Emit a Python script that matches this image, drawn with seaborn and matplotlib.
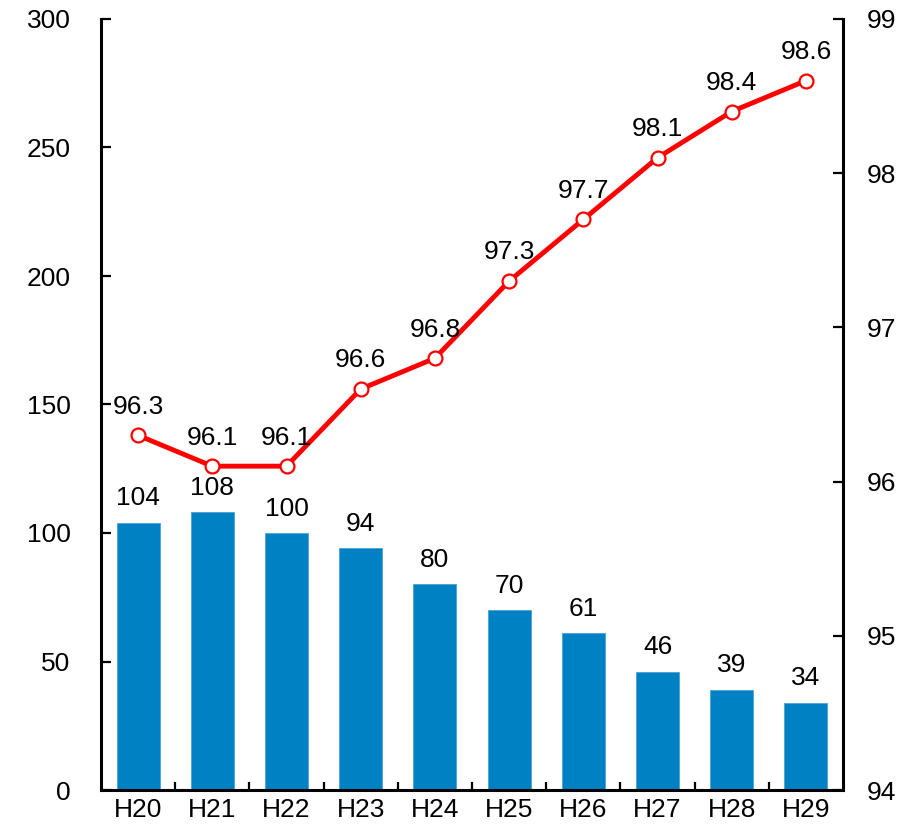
import matplotlib
matplotlib.use("Agg")
import matplotlib.pyplot as plt
import seaborn as sns
import numpy as np
import pandas as pd

categories = ["H20", "H21", "H22", "H23", "H24", "H25", "H26", "H27", "H28", "H29"]
bar_values = [104, 108, 100, 94, 80, 70, 61, 46, 39, 34]
line_values = [96.3, 96.1, 96.1, 96.6, 96.8, 97.3, 97.7, 98.1, 98.4, 98.6]
left_ticks = [0, 50, 100, 150, 200, 250, 300]
right_ticks = [94, 95, 96, 97, 98, 99]

sns.set_theme(style="white")
plt.rcParams["font.family"] = ["Liberation Sans", "DejaVu Sans"]
plt.rcParams["text.color"] = "black"
FS = 19

fig = plt.figure(figsize=(9.15, 8.24), dpi=100)
ax = fig.add_axes([101/915, 1-790/824, (843-101)/915, (790-19)/824])

df = pd.DataFrame({"cat": categories, "val": bar_values})
sns.barplot(data=df, x="cat", y="val", ax=ax, color="#0081C3", width=0.58,
            saturation=1, edgecolor="#4aa3d6", linewidth=0.6)
ax.set_xlim(-0.5, len(categories) - 0.5)
ax.set_ylim(0, 300)
ax.set_yticks(left_ticks)
ax.set_xlabel("")
ax.set_ylabel("")
for i, v in enumerate(bar_values):
    ax.annotate(f"{v}", (i, v), xytext=(0, 9), textcoords="offset points",
                ha="center", va="bottom", fontsize=FS, color="black")

ax2 = ax.twinx()
ldf = pd.DataFrame({"x": np.arange(len(categories)), "y": line_values})
sns.lineplot(data=ldf, x="x", y="y", ax=ax2, color="#FF0000", linewidth=3.5,
             marker="o", markersize=10, markerfacecolor="white",
             markeredgecolor="#FF0000", markeredgewidth=1.6)
ax2.set_ylim(94, 99)
ax2.set_yticks(right_ticks)
ax2.set_xlabel("")
ax2.set_ylabel("")
for i, v in enumerate(line_values):
    ax2.annotate(f"{v}", (i, v), xytext=(0, 12), textcoords="offset points",
                 ha="center", va="bottom", fontsize=FS, color="black")
ax2.set_xlim(-0.5, len(categories) - 0.5)

for a in (ax, ax2):
    for s in a.spines.values():
        s.set_linewidth(2.2)
        s.set_color("black")
    a.spines["top"].set_visible(False)
    a.grid(False)

ax.spines["right"].set_visible(False)
ax2.spines["left"].set_visible(False)
ax2.spines["bottom"].set_visible(False)

ax.tick_params(axis="y", direction="in", length=7, width=1.6, labelsize=FS,
               pad=22, left=True, colors="black")
ax.tick_params(axis="x", which="major", length=0, labelsize=FS, pad=6,
               colors="black")
ax.set_xticks(np.arange(0.5, len(categories) - 1, 1.0), minor=True)
ax.tick_params(axis="x", which="minor", direction="in", length=6, width=1.6,
               bottom=True, colors="black")
ax2.tick_params(axis="y", direction="in", length=7, width=1.6, labelsize=FS,
                pad=17, right=True, colors="black")

fig.savefig("out.png", dpi=100)
